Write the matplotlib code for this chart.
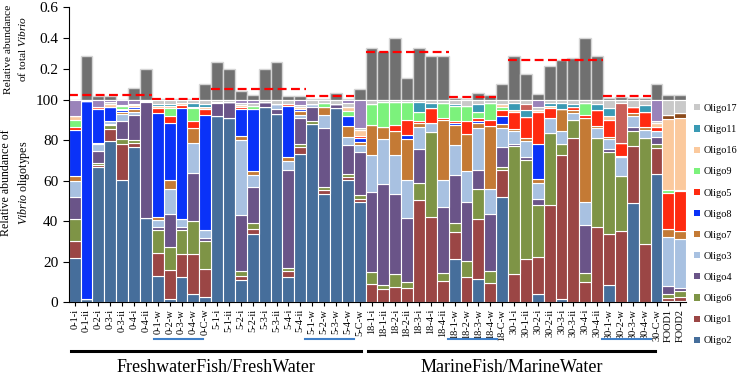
import numpy as np
import matplotlib
matplotlib.use("Agg")
import matplotlib.pyplot as plt
from matplotlib.patches import Patch

plt.rcParams["font.family"] = ["Liberation Serif", "DejaVu Serif"]
plt.rcParams["mathtext.fontset"] = "custom"
plt.rcParams["mathtext.rm"] = "Liberation Serif"
plt.rcParams["mathtext.it"] = "Liberation Serif:italic"

samples = ["0-1-i", "0-1-ii", "0-2-i", "0-3-i", "0-3-ii", "0-4-i", "0-4-ii",
           "0-1-w", "0-2-w", "0-3-w", "0-4-w", "0-C-w",
           "5-1-i", "5-1-ii", "5-2-i", "5-2-ii", "5-3-i", "5-3-ii", "5-4-i", "5-4-ii",
           "5-1-w", "5-2-w", "5-3-w", "5-4-w", "5-C-w",
           "18-1-i", "18-1-ii", "18-2-i", "18-2-ii", "18-3-i", "18-4-i", "18-4-ii",
           "18-1-w", "18-2-w", "18-3-w", "18-4-w", "18-C-w",
           "30-1-i", "30-1-ii", "30-2-i", "30-2-ii", "30-3-i", "30-3-ii", "30-4-i", "30-4-ii",
           "30-1-w", "30-2-w", "30-3-w", "30-4-w", "30-C-w",
           "FOOD1", "FOOD2"]

# relative abundance of total Vibrio (top panel)
total_vibrio = [0.0, 0.28, 0.028, 0.028, 0.003, 0.075, 0.198, 0.004, 0.004, 0.004,
                0.004, 0.10, 0.247, 0.198, 0.06, 0.032, 0.20, 0.245, 0.026, 0.026,
                0.005, 0.005, 0.047, 0.005, 0.069, 0.333, 0.318, 0.398, 0.14, 0.333,
                0.28, 0.28, 0.01, 0.008, 0.047, 0.032, 0.10, 0.28, 0.168, 0.039,
                0.219, 0.258, 0.269, 0.398, 0.284, 0.01, 0.02, 0.01, 0.015, 0.10,
                0.03, 0.03]

# group means (red dashed lines): first bar, last bar, value
mean_first = [0, 7, 12, 20, 25, 32, 37, 45]
mean_last = [6, 10, 19, 23, 31, 35, 44, 48]
mean_value = [0.032, 0.006, 0.069, 0.026, 0.307, 0.021, 0.258, 0.026]

# oligotype composition (%), stacked bottom -> top
oligo2 = [22, 1.5, 67, 79.5, 60.5, 76.5, 41.5, 13, 1.5, 12.5,
          4, 2.5, 92, 91, 11, 33.5, 96.5, 93, 12.5, 73.5,
          88, 53.5, 96, 60.5, 49.5, 0, 0, 0, 0, 0,
          0, 0, 21.5, 0, 11.5, 0, 52, 0, 0, 4,
          0, 1.5, 0, 0, 0, 8.5, 0, 49, 0, 63.5,
          0.5, 0.5]
oligo1 = [8, 0, 1, 6, 17.5, 2, 0, 11.5, 14.5, 11.5,
          20, 14, 0, 0, 2, 2.5, 0, 0, 3, 3,
          0, 2, 0, 1.5, 1.5, 9, 6.5, 7.5, 7, 50.5,
          42, 10.5, 13, 12.5, 29.5, 9.5, 13.5, 14, 21.5, 18.5,
          48, 71.5, 81, 10, 37, 25, 35, 28, 28.5, 12.5,
          1.5, 2]
oligo6 = [11, 0, 1, 2, 2.5, 1.5, 0, 11, 11, 11.5,
          16, 13.5, 0, 0, 2.5, 3, 0, 0, 1.5, 1.5,
          1.5, 1.5, 0, 1.5, 2, 6, 2, 6.5, 3, 8.5,
          42, 4, 4.5, 8, 15, 6, 1.5, 63, 49, 25.5,
          35.5, 5, 9, 4.5, 44, 41, 27.5, 7.5, 52.5, 2,
          2, 3]
oligo4 = [11, 0, 6, 0.5, 9, 12.5, 57.5, 1.5, 16.5, 1.5,
          24, 1.5, 6.5, 8, 27.5, 18, 2.5, 2.5, 48.5, 13,
          7, 29, 2, 14, 21.5, 39.5, 50, 39.5, 31.5, 16.5,
          0, 32.5, 24, 29, 9.5, 28, 9.5, 1, 1.5, 3,
          0, 0, 0, 23.5, 0, 1, 0, 2, 0, 3.5,
          4, 1.5]
oligo3 = [8, 0, 3, 1.5, 3.5, 1.5, 0.5, 3.5, 12.5, 4,
          14.5, 4, 0.5, 0, 37, 6, 0, 2.5, 4.5, 1.5,
          1.5, 6.5, 0, 4, 3, 18.5, 22, 19.5, 19, 11,
          4.5, 13.5, 14.5, 15.5, 20.5, 12.5, 9.5, 6.5, 7.5, 8,
          7.5, 6.5, 3.5, 11.5, 5, 5, 9.5, 5.5, 4, 3,
          24, 24]
oligo7 = [2.5, 0, 0.5, 0, 1, 1.5, 0, 1.5, 4.5, 0,
          7.5, 0, 0, 0, 2, 2, 0, 0, 2, 2,
          0, 4, 0, 5.5, 1.5, 14.5, 6, 11.5, 20, 2,
          0, 29.5, 10, 18, 2.5, 31, 2, 1, 1.5, 2,
          0, 11, 1.5, 41.5, 1, 1, 0, 1.5, 1.5, 0,
          4, 4]
oligo8 = [22.5, 98, 17, 7, 1, 1, 0, 51.5, 28, 55,
          0, 57, 0, 0, 13.5, 30.5, 0, 0, 25, 1,
          0, 0, 0, 5, 2, 0, 0, 0, 2, 0,
          0, 0, 1, 0, 1, 0, 4, 0, 0, 17,
          0, 0, 0, 0, 0, 0, 0.5, 0, 0, 0,
          0, 0]
oligo5 = [1.5, 0, 1, 0, 0.5, 0, 0, 2.5, 3.5, 1.5,
          3.5, 3, 0, 0, 1, 0, 0, 0, 1, 0,
          0, 0, 0, 0, 1, 0, 0, 3, 7.5, 1,
          7.5, 1, 1, 6.5, 1.5, 3, 3, 8.5, 10.5, 16,
          5, 0, 1.5, 1.5, 8, 8.5, 6, 3, 7.5, 2,
          18, 20]
oligo9 = [3.5, 0, 0, 0, 1.5, 0, 0, 0, 4, 0,
          6.5, 0, 0, 0, 0, 1.5, 0, 0, 0, 0,
          0, 2, 0, 2.5, 0, 10.5, 12.5, 11.5, 9, 4.5,
          0, 7.5, 7.5, 7.5, 3, 8.5, 1.5, 0, 0, 0,
          0, 0, 0, 6, 0, 0, 0, 0, 0, 0,
          1.5, 0.5]
oligo16 = [2, 0, 0, 1.5, 0, 1, 0, 1, 1, 1,
           0.5, 1, 0, 0, 1, 0, 0, 0, 0, 1,
           0, 0, 0, 2, 3, 0, 0, 0, 0, 0,
           0, 0, 0, 0, 0, 0, 1.5, 1, 0, 1,
           1, 0, 0, 0, 0, 2, 0, 0, 0, 2,
           35, 35.5]
other_brown = [0] * 50 + [2, 2.5]
oligo11 = [0, 0, 0, 0, 0, 0, 0, 1, 1, 0,
           2, 1.5, 0, 0, 0, 0, 0, 0, 0, 0,
           0, 0, 0, 0, 0, 0, 0, 0, 0, 5,
           2.5, 0, 1, 0, 4, 0, 0, 3.5, 3.5, 0,
           1.5, 3, 1.5, 0, 3, 4, 0, 0, 3.5, 0,
           0, 0]
other_salmon = [0] * 38 + [3] + [0] * 7 + [20] + [0] * 5
oligo17 = [0, 0.5, 0, 1, 0.5, 0.5, 0.5, 2, 2, 1.5,
           1.5, 2, 1, 1, 1, 1.5, 1, 2, 2, 1,
           2, 1.5, 2, 2, 1, 2, 1, 1, 1, 1,
           1.5, 1.5, 2, 3, 2, 1.5, 2, 1.5, 2, 1.5,
           1.5, 1.5, 2, 1.5, 2, 4, 1.5, 3.5, 2.5, 1,
           7.5, 6.5]
other_lavender = [8, 0, 3.5, 1, 2.5, 2, 0, 0, 0, 0,
                  0, 0, 0, 0, 1.5, 1.5, 0, 0, 0, 2.5,
                  0, 0, 0, 1.5, 14, 0, 0, 0, 0, 0,
                  0, 0, 0, 0, 0, 0, 0, 0, 0, 3.5,
                  0, 0, 0, 0, 0, 0, 0, 0, 0, 10.5,
                  0, 0]

stack = [
    ("Oligo2", oligo2, "#466e9b"),
    ("Oligo1", oligo1, "#9b4645"),
    ("Oligo6", oligo6, "#7e9446"),
    ("Oligo4", oligo4, "#6a5488"),
    ("Oligo3", oligo3, "#a8c1e1"),
    ("Oligo7", oligo7, "#c47a35"),
    ("Oligo8", oligo8, "#0a32f8"),
    ("Oligo5", oligo5, "#ff2a10"),
    ("Oligo9", oligo9, "#7cf27c"),
    ("Oligo16", oligo16, "#fbc99d"),
    ("other_brown", other_brown, "#8b4a1a"),
    ("Oligo11", oligo11, "#3a9ab4"),
    ("other_salmon", other_salmon, "#c8605a"),
    ("Oligo17", oligo17, "#c9c9c9"),
    ("other_lavender", other_lavender, "#9a83ba"),
]
legend_order = ["Oligo17", "Oligo11", "Oligo16", "Oligo9", "Oligo5", "Oligo8",
                "Oligo7", "Oligo3", "Oligo4", "Oligo6", "Oligo1", "Oligo2"]

W, H = 741, 379
fig = plt.figure(figsize=(W / 100, H / 100), dpi=100)
left, right = 68.7 / W, 686.2 / W
ax = fig.add_axes([left, 1 - 302 / H, right - left, 202 / H])
axt = fig.add_axes([left, 1 - 100 / H, right - left, 93.3 / H])

x = np.arange(len(samples))
bottom = np.zeros(len(samples))
for name, vals, col in stack:
    vals = np.array(vals, dtype=float)
    ax.bar(x, vals, width=1.0, bottom=bottom, color=col, edgecolor="white",
           linewidth=0.8)
    bottom += vals

ax.set_xlim(-0.5, len(samples) - 0.5)
ax.set_ylim(0, 100)
ax.set_yticks([0, 20, 40, 60, 80, 100])
ax.tick_params(axis="y", labelsize=11, length=4, direction="out")
ax.set_xticks(x)
ax.set_xticklabels(samples, rotation=90, fontsize=7.5)
ax.tick_params(axis="x", length=3, pad=2)
for s in ["top", "right"]:
    ax.spines[s].set_visible(False)

# top panel: total Vibrio
axt.bar(x, total_vibrio, width=1.0, color="#707070", edgecolor="#d5d5d5",
        linewidth=1.0)
axt.hlines(mean_value, np.array(mean_first) - 0.5, np.array(mean_last) + 0.5,
           colors="#ff0000", linestyles=(0, (4, 2)), linewidth=1.6)
axt.set_xlim(-0.5, len(samples) - 0.5)
axt.set_ylim(0, 0.6)
axt.set_yticks([0.2, 0.4, 0.6])
axt.tick_params(axis="y", labelsize=11, length=4)
axt.set_xticks([])
for s in ["top", "right", "bottom"]:
    axt.spines[s].set_visible(False)
axt.patch.set_alpha(0)

fig.text(16 / W, 1 - 49 / H, "Relative abundance\nof total $\\mathit{Vibrio}$",
         rotation=90, ha="center", va="center", fontsize=8.2, linespacing=1.35)
fig.text(16 / W, 1 - 183 / H, "Relative abundance of\n$\\mathit{Vibrio}$ oligotypes",
         rotation=90, ha="center", va="center", fontsize=8.6, linespacing=1.35)

# group brackets below tick labels
blue_spans = [(6.68, 10.81), (19.4, 23.5), (31.44, 35.57), (44.38, 48.51)]
for a, b in blue_spans:
    ax.plot([a, b], [-18.5, -18.5], color="#3f7fc8", lw=1.5, clip_on=False)
groups = [("FreshwaterFish/FreshWater", -0.33, 24.09),
          ("MarineFish/MarineWater", 24.7, 48.86)]
for label, a, b in groups:
    ax.plot([a, b], [-24.3, -24.3], color="black", lw=2.2, clip_on=False)
    ax.text((a + b) / 2, -32.5, label, ha="center", va="center", fontsize=13)

handles = []
colors = {n: c for n, _, c in stack}
for n in legend_order:
    handles.append(Patch(facecolor=colors[n], edgecolor="none"))
fig.legend(handles, legend_order, loc="upper left", bbox_to_anchor=(694 / W, 1 - 104 / H),
           frameon=False, fontsize=7.4, handlelength=0.55, handleheight=0.55,
           handletextpad=0.4, labelspacing=1.18, borderaxespad=0, borderpad=0)

fig.savefig("out.png", dpi=100)
